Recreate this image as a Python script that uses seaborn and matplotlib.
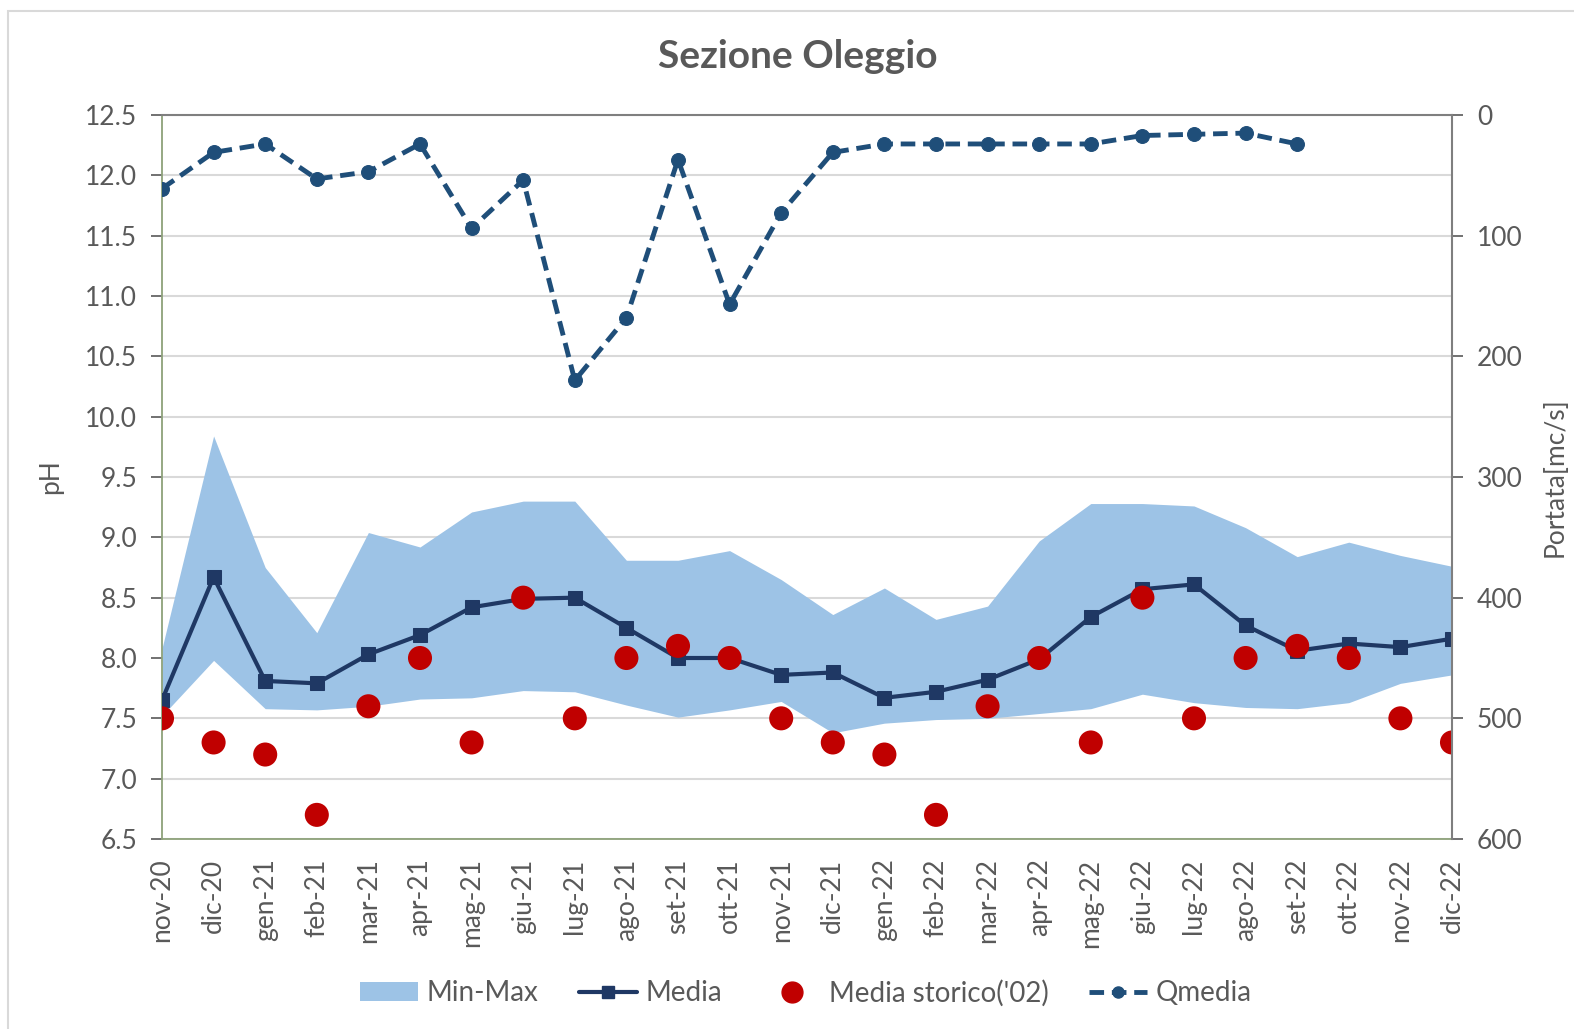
import numpy as np
import pandas as pd
import seaborn as sns
import matplotlib
matplotlib.use("Agg")
import matplotlib.pyplot as plt
from matplotlib.lines import Line2D
from matplotlib.patches import Patch, Rectangle

months = ["nov-20", "dic-20", "gen-21", "feb-21", "mar-21", "apr-21", "mag-21", "giu-21",
          "lug-21", "ago-21", "set-21", "ott-21", "nov-21", "dic-21", "gen-22", "feb-22",
          "mar-22", "apr-22", "mag-22", "giu-22", "lug-22", "ago-22", "set-22", "ott-22",
          "nov-22", "dic-22"]
ph_max = [8.08, 9.84, 8.75, 8.21, 9.04, 8.92, 9.21, 9.30, 9.30, 8.81, 8.81, 8.89, 8.65,
          8.36, 8.58, 8.32, 8.43, 8.97, 9.28, 9.28, 9.26, 9.08, 8.84, 8.96, 8.85, 8.76]
ph_min = [7.52, 7.98, 7.58, 7.57, 7.60, 7.66, 7.67, 7.73, 7.72, 7.61, 7.51, 7.57, 7.64,
          7.38, 7.46, 7.49, 7.50, 7.54, 7.58, 7.70, 7.63, 7.59, 7.58, 7.63, 7.79, 7.86]
ph_media = [7.65, 8.67, 7.81, 7.79, 8.03, 8.19, 8.42, 8.49, 8.50, 8.25, 8.00, 8.00, 7.86,
            7.88, 7.67, 7.72, 7.82, 7.99, 8.34, 8.57, 8.61, 8.27, 8.06, 8.12, 8.09, 8.16]
ph_storico = [7.5, 7.3, 7.2, 6.7, 7.6, 8.0, 7.3, 8.5, 7.5, 8.0, 8.1, 8.0, 7.5,
              7.3, 7.2, 6.7, 7.6, 8.0, 7.3, 8.5, 7.5, 8.0, 8.1, 8.0, 7.5, 7.3]
q_media = [61, 31, 24, 53, 47, 24, 94, 54, 220, 168, 37, 157, 81,
           31, 24, 24, 24, 24, 24, 17, 16, 15, 24, np.nan, np.nan, np.nan]

df = pd.DataFrame({"mese": months, "idx": np.arange(len(months)), "max": ph_max,
                   "min": ph_min, "media": ph_media, "storico": ph_storico, "q": q_media})

sns.set_theme(style="white")
plt.rcParams["font.family"] = ["Lato", "DejaVu Sans"]

TXT = "#595959"
BAND = "#9DC3E6"
NAVY = "#1F3864"
QCOL = "#1F4E79"
RED = "#C00000"
FS = 19

fig = plt.figure(figsize=(15.74, 10.29), dpi=100)
fig.patches.append(Rectangle((8 / 1574, -0.05), 1.2, 1 - 11 / 1029 + 0.05,
                             transform=fig.transFigure, fill=False,
                             edgecolor="#D9D9D9", linewidth=1.5, zorder=0))
ax = fig.add_axes([162 / 1574, 1 - 839 / 1029, (1452 - 162) / 1574, (839 - 115) / 1029])

ax.fill_between(df["idx"], df["min"], df["max"], color=BAND, linewidth=0, zorder=1)
sns.lineplot(data=df, x="idx", y="media", ax=ax, color=NAVY, linewidth=3,
             marker="s", markersize=10, markeredgecolor=NAVY, zorder=3)
sns.scatterplot(data=df, x="idx", y="storico", ax=ax, color=RED, s=300,
                edgecolor="none", zorder=4)

ax.set_xlim(0, len(months) - 1)
ax.set_ylim(6.5, 12.5)
ax.set_yticks(np.arange(6.5, 12.51, 0.5))
ax.set_yticklabels([f"{v:.1f}" for v in np.arange(6.5, 12.51, 0.5)])
ax.set_xticks(df["idx"])
ax.set_xticklabels(months, rotation=90)
ax.grid(axis="y", color="#D9D9D9", linewidth=1.5, zorder=0)
ax.set_axisbelow(True)
ax.set_xlabel("")
ax.set_ylabel("pH", fontsize=FS, color=TXT, labelpad=16)
ax.tick_params(axis="both", labelsize=FS, colors=TXT, length=8, width=1.2, direction="out")
ax.tick_params(axis="y", pad=10)
ax.tick_params(axis="x", pad=6)
for s in ["left", "bottom"]:
    ax.spines[s].set_color("#8DA17A")
    ax.spines[s].set_linewidth(1.3)
ax.spines["top"].set_color("#7F7F7F")
ax.spines["top"].set_linewidth(1.5)
ax.spines["right"].set_visible(False)

ax2 = ax.twinx()
sns.lineplot(data=df, x="idx", y="q", ax=ax2, color=QCOL, linewidth=3.5,
             linestyle=(0, (3, 1.6)), marker="o", markersize=10,
             markeredgecolor=QCOL, zorder=5)
ax2.set_ylim(600, 0)
ax2.set_yticks(np.arange(0, 601, 100))
ax2.set_ylabel("Portata[mc/s]", fontsize=FS, color=TXT, labelpad=14)
ax2.tick_params(axis="y", labelsize=FS, colors=TXT, length=8, width=1.2, direction="out", pad=10)
for s in ["left", "bottom", "top"]:
    ax2.spines[s].set_visible(False)
ax2.spines["right"].set_color("#7F7F7F")
ax2.spines["right"].set_linewidth(1.5)
ax2.grid(False)
ax2.set_xlim(0, len(months) - 1)

fig.text(0.507, 1 - 56 / 1029, "Sezione Oleggio", ha="center", va="center",
         fontsize=28, fontweight="bold", color=TXT)

handles = [
    Patch(facecolor=BAND, edgecolor="none"),
    Line2D([0], [0], color=NAVY, linewidth=3, marker="s", markersize=8),
    Line2D([0], [0], color=RED, linestyle="none", marker="o", markersize=15),
    Line2D([0], [0], color=QCOL, linewidth=3.5, linestyle=(0, (3, 1.6)), marker="o", markersize=8),
]
labels = ["Min-Max", "Media", "Media storico('02)", "Qmedia"]
leg = fig.legend(handles, labels, loc="center", bbox_to_anchor=(0.512, 1 - 993 / 1029),
                 ncol=4, frameon=False, fontsize=20, handlelength=2.1,
                 columnspacing=1.45, handletextpad=0.3)
for t in leg.get_texts():
    t.set_color(TXT)

fig.savefig("out.png", dpi=100)
